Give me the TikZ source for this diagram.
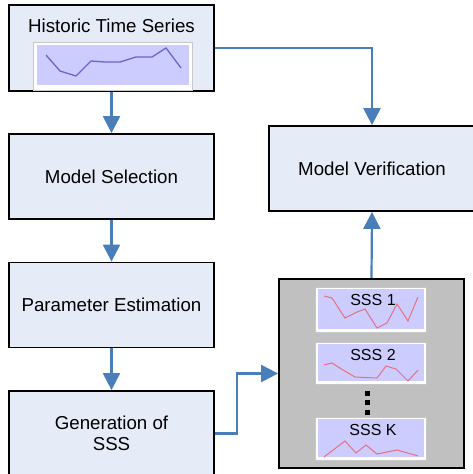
\documentclass[tikz,border=0pt]{standalone}
\usepackage{fontspec}
\setmainfont{Liberation Sans}
\usepackage{tikz}
\usetikzlibrary{arrows.meta}

\definecolor{boxfill}{HTML}{E6ECF7}
\definecolor{flowblue}{HTML}{4A7EBB}
\definecolor{lavender}{HTML}{CCCCFF}
\definecolor{panelgray}{HTML}{C0C0C0}
\definecolor{histline}{HTML}{6666CC}
\definecolor{sssline}{HTML}{E8707F}

\begin{document}
\begin{tikzpicture}[x=1pt, y=-1pt,
    stepbox/.style={draw, line width=1.8pt, fill=boxfill, minimum width=205pt,
        minimum height=85pt, align=center, font=\fontsize{18.7}{21}\selectfont},
    flow/.style={draw=flowblue, line width=2.2pt},
    arr/.style={flow, -{Triangle[width=17pt,length=17pt]}},
    inset/.style={fill=white, draw=black!22, line width=1pt},
    chart/.style={fill=lavender}]
    \useasboundingbox (0,0) rectangle (472,474);

    \begin{scope} % Process boxes
        \node[stepbox, minimum height=86pt] (hist) at (111.5,48) {};
        \node[font=\fontsize{18.7}{21}\selectfont] (histlabel) at (111.5,26) {Historic Time Series};
        \node[stepbox] (sel) at (111.5,176.5) {Model Selection};
        \node[stepbox] (par) at (111.5,305) {Parameter Estimation};
        \node[stepbox] (gen) at (111.5,433.5) {Generation of\\SSS};
        \node[stepbox, minimum width=206pt] (ver) at (372,168.5) {Model Verification};
        \node[draw, line width=1.8pt, fill=panelgray, minimum width=185pt,
            minimum height=189pt] (sss) at (371.5,373.5) {};
    \end{scope}

    \begin{scope} % Historic series inset
        \filldraw[inset] (33,42) rectangle (192,90);
        \fill[chart] (37,45) rectangle (189,85);
        \draw[histline, line width=1.3pt] (46,55) -- (60,71) -- (76,76) -- (91,61)
            -- (105,62) -- (120,62) -- (136,57) -- (152,57) -- (166,48) -- (181,68);
    \end{scope}

    \begin{scope} % Synthetic series
        \foreach \top/\bot/\lab in {287/332/SSS 1, 342/384/SSS 2, 417/460/SSS K} {
            \filldraw[inset] (315,\top) rectangle (426,\bot);
            \fill[chart] (318,{\top+2}) rectangle (424,{\bot-3});
            \node[font=\fontsize{16}{18}\selectfont] at (373,{\top+13}) {\lab};
        }
        \draw[sssline, line width=1pt] (324,296) -- (332,298) -- (345,318) -- (357,312)
            -- (365,309) -- (377,328) -- (387,323) -- (397,304) -- (408,321) -- (418,297);
        \draw[sssline, line width=1pt] (324,365) -- (332,363) -- (343,370) -- (355,377)
            -- (377,378) -- (386,366) -- (396,369) -- (408,381) -- (418,370);
        \draw[sssline, line width=1pt] (324,457) -- (345,441) -- (356,453) -- (366,445)
            -- (377,454) -- (397,450) -- (418,456);
        \foreach \y in {390.5,400,409.5}
            \fill (364.5,\y) rectangle ++(5,5);
    \end{scope}

    \begin{scope} % Connectors
        \draw[arr] (hist.south) -- (sel.north);
        \draw[arr] (sel.south) -- (par.north);
        \draw[arr] (par.south) -- (gen.north);
        \draw[arr] (gen.east) -- ++(22,0) |- (sss.west);
        \draw[arr] (sss.north) -- (ver.south);
        \draw[arr] (hist.east) -| (ver.north);
    \end{scope}
\end{tikzpicture}
\end{document}
